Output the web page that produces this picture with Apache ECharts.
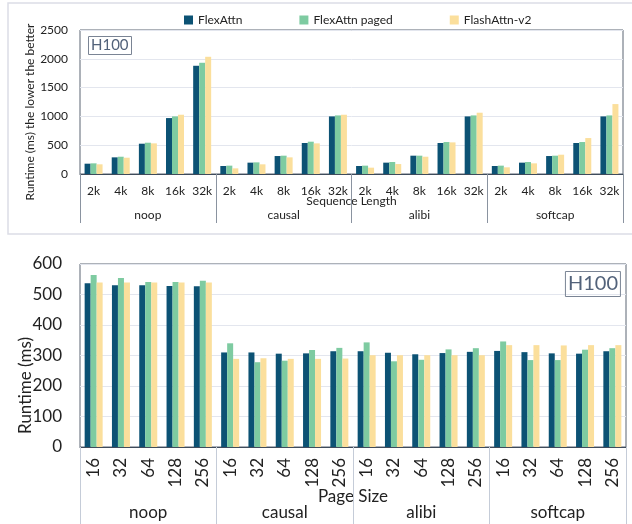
<!DOCTYPE html>
<html>
<head>
<meta charset="utf-8">
<script src="https://cdn.jsdelivr.net/npm/echarts@6/dist/echarts.min.js"></script>
<style>
  html, body { margin: 0; padding: 0; background: #fff; }
  #chart { width: 632px; height: 524px; }
</style>
</head>
<body>
<div id="chart"></div>
<script>
// Groups (masking modes) shared by both panels
var groups = ['noop', 'causal', 'alibi', 'softcap'];

// Top panel: runtime vs sequence length
var seqLens = ['2k', '4k', '8k', '16k', '32k'];
var seqFlex = [179, 289, 526, 971, 1879, 139, 197, 312, 538, 1000, 139, 197, 318, 538, 1000, 139, 197, 312, 538, 1000];
var seqPaged = [185, 300, 543, 1000, 1931, 145, 202, 318, 561, 1017, 145, 208, 318, 555, 1017, 145, 208, 318, 555, 1017];
var seqFA2 = [168, 283, 532, 1029, 2035, 98, 168, 289, 532, 1029, 110, 173, 300, 549, 1064, 116, 185, 335, 624, 1214];

// Bottom panel: runtime vs page size
var pageSizes = ['16', '32', '64', '128', '256'];
var pageFlex = [537, 530, 530, 528, 527, 310, 310, 306, 307, 314, 314, 309, 304, 308, 312, 315, 311, 307, 306, 314];
var pagePaged = [564, 554, 541, 541, 545, 340, 278, 283, 318, 325, 343, 281, 286, 320, 324, 346, 285, 285, 319, 324];
var pageFA2 = [539, 539, 539, 539, 539, 289, 291, 289, 289, 290, 301, 301, 301, 301, 301, 334, 334, 333, 334, 334];

var names = ['FlexAttn', 'FlexAttn paged', 'FlashAttn-v2'];
var colors = ['#0c5274', '#7ecba1', '#fbdf9c'];

function repeatLabels(labels) {
  var out = [];
  groups.forEach(function () { labels.forEach(function (l) { out.push(l); }); });
  return out;
}

var font = 'Lato, "Open Sans", sans-serif';
var txt = '#222';

var chart = echarts.init(document.getElementById('chart'), null, { renderer: 'canvas' });

function barSeries(name, data, xi, yi, color) {
  return {
    name: name, type: 'bar', xAxisIndex: xi, yAxisIndex: yi,
    data: data, barWidth: 6, barGap: '0%',
    itemStyle: { color: color }
  };
}

// plain numbers, no thousands separator
function plain(v) { return String(v); }

var option = {
  animation: false,
  textStyle: { fontFamily: font },
  color: colors,
  legend: {
    top: 9, left: 179, itemWidth: 9, itemHeight: 9, itemGap: 57,
    icon: 'rect',
    textStyle: { fontSize: 12, color: txt, fontFamily: font },
    data: names
  },
  title: [
    {
      text: 'H100', left: 88, top: 36, padding: [2, 3],
      borderColor: '#7a8494', borderWidth: 1,
      textStyle: { fontSize: 15, fontWeight: 'normal', color: '#52627a', fontFamily: font }
    },
    {
      text: 'H100', right: 11, top: 271, padding: [3, 3],
      borderColor: '#7a8494', borderWidth: 1,
      textStyle: { fontSize: 20, fontWeight: 'normal', color: '#52627a', fontFamily: font }
    }
  ],
  graphic: [
    {
      type: 'rect', shape: { x: 8, y: 3, width: 640, height: 231 },
      style: { fill: 'none', stroke: '#dcdde6', lineWidth: 1.5 }, silent: true, z: -1
    }
  ],
  grid: [
    { left: 80, top: 30, right: 9, height: 144, show: true, borderColor: '#5b6472', borderWidth: 1 },
    { left: 80, top: 264, right: 6, height: 183, show: true, borderColor: '#5b6472', borderWidth: 1 }
  ],
  xAxis: [
    {
      type: 'category', gridIndex: 0, data: repeatLabels(seqLens),
      axisLine: { lineStyle: { color: '#3f4b5b' } },
      axisTick: { show: false },
      axisLabel: { fontSize: 12, color: txt, margin: 11, interval: 0 },
      name: 'Sequence Length', nameLocation: 'middle', nameGap: 21, nameMoveOverlap: false,
      nameTextStyle: { fontSize: 12, color: txt }
    },
    {
      type: 'category', gridIndex: 0, data: groups, position: 'bottom',
      axisLine: { show: false },
      axisTick: { show: true, length: 49, lineStyle: { color: '#8a93a0' } },
      axisLabel: { fontSize: 12, color: txt, margin: 35 }
    },
    {
      type: 'category', gridIndex: 1, data: repeatLabels(pageSizes),
      axisLine: { lineStyle: { color: '#3f4b5b' } },
      axisTick: { show: false },
      axisLabel: { fontSize: 17, color: txt, margin: 11, rotate: 90, interval: 0 },
      name: 'Page Size', nameLocation: 'middle', nameGap: 41, nameMoveOverlap: false,
      nameTextStyle: { fontSize: 17, color: txt }
    },
    {
      type: 'category', gridIndex: 1, data: groups, position: 'bottom',
      axisLine: { show: false },
      axisTick: { show: true, length: 77, lineStyle: { color: '#c5ccd8' } },
      axisLabel: { fontSize: 17, color: txt, margin: 57 }
    }
  ],
  yAxis: [
    {
      type: 'value', gridIndex: 0, min: 0, max: 2500, interval: 500,
      axisLine: { show: false }, axisTick: { show: false },
      axisLabel: { fontSize: 12, color: txt, margin: 12, formatter: plain },
      splitLine: { lineStyle: { color: '#e3e6ee' } },
      name: 'Runtime (ms) the lower the better', nameLocation: 'middle', nameGap: 44,
      nameMoveOverlap: false,
      nameTextStyle: { fontSize: 12, color: txt, padding: [0, 20, 0, 0] }
    },
    {
      type: 'value', gridIndex: 1, min: 0, max: 600, interval: 100,
      axisLine: { show: false }, axisTick: { show: false },
      axisLabel: { fontSize: 17, color: txt, margin: 18, formatter: plain },
      splitLine: { lineStyle: { color: '#e3e6ee' } },
      name: 'Runtime (ms)', nameLocation: 'middle', nameGap: 46,
      nameMoveOverlap: false,
      nameTextStyle: { fontSize: 17, color: txt, padding: [0, 60, 0, 0] }
    }
  ],
  series: [
    barSeries(names[0], seqFlex, 0, 0, colors[0]),
    barSeries(names[1], seqPaged, 0, 0, colors[1]),
    barSeries(names[2], seqFA2, 0, 0, colors[2]),
    barSeries(names[0], pageFlex, 2, 1, colors[0]),
    barSeries(names[1], pagePaged, 2, 1, colors[1]),
    barSeries(names[2], pageFA2, 2, 1, colors[2])
  ]
};

chart.setOption(option);
</script>
</body>
</html>
